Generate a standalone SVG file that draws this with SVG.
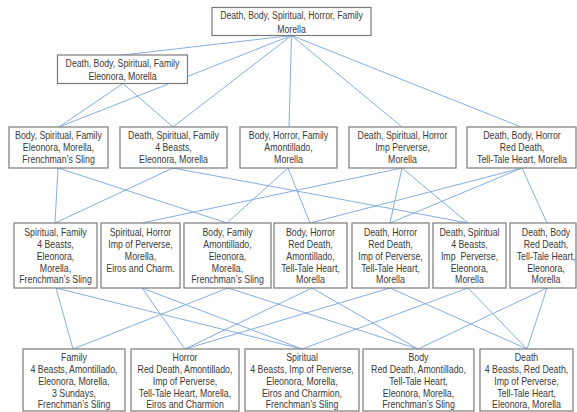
<svg xmlns="http://www.w3.org/2000/svg" width="577" height="412" viewBox="0 0 577 412">
<style>
.e{stroke:#86aee0;stroke-width:1;fill:none}
.b{fill:#fff;stroke:#7a7a7a;stroke-width:1.2}
.t{font-family:"Liberation Sans",Arial,sans-serif;font-size:10px;fill:#3a3a3a;text-anchor:middle}
</style>
<rect width="577" height="412" fill="#fff"/>
<g id="connectors">
<line class="e" x1="291.5" y1="35.5" x2="123" y2="55"/>
<line class="e" x1="291.5" y1="35.5" x2="59" y2="127"/>
<line class="e" x1="291.5" y1="35.5" x2="173" y2="127"/>
<line class="e" x1="291.5" y1="35.5" x2="289" y2="127"/>
<line class="e" x1="291.5" y1="35.5" x2="402" y2="127"/>
<line class="e" x1="291.5" y1="35.5" x2="521" y2="127"/>
<line class="e" x1="123" y1="83.5" x2="59" y2="127"/>
<line class="e" x1="123" y1="83.5" x2="173" y2="127"/>
<line class="e" x1="58" y1="168" x2="55" y2="223"/>
<line class="e" x1="58" y1="168" x2="227" y2="223"/>
<line class="e" x1="173" y1="168" x2="55" y2="223"/>
<line class="e" x1="173" y1="168" x2="468" y2="223"/>
<line class="e" x1="288" y1="168" x2="227" y2="223"/>
<line class="e" x1="288" y1="168" x2="310" y2="223"/>
<line class="e" x1="402" y1="168" x2="142" y2="223"/>
<line class="e" x1="402" y1="168" x2="390" y2="223"/>
<line class="e" x1="402" y1="168" x2="468" y2="223"/>
<line class="e" x1="522" y1="168" x2="310" y2="223"/>
<line class="e" x1="522" y1="168" x2="390" y2="223"/>
<line class="e" x1="522" y1="168" x2="547" y2="223"/>
<line class="e" x1="56" y1="288" x2="73" y2="349"/>
<line class="e" x1="228" y1="288" x2="73" y2="349"/>
<line class="e" x1="142" y1="288" x2="185" y2="349"/>
<line class="e" x1="312" y1="288" x2="185" y2="349"/>
<line class="e" x1="390" y1="288" x2="185" y2="349"/>
<line class="e" x1="56" y1="288" x2="302" y2="349"/>
<line class="e" x1="142" y1="288" x2="302" y2="349"/>
<line class="e" x1="468" y1="288" x2="302" y2="349"/>
<line class="e" x1="228" y1="288" x2="418" y2="349"/>
<line class="e" x1="312" y1="288" x2="418" y2="349"/>
<line class="e" x1="547" y1="288" x2="418" y2="349"/>
<line class="e" x1="390" y1="288" x2="527" y2="349"/>
<line class="e" x1="468" y1="288" x2="527" y2="349"/>
<line class="e" x1="547" y1="288" x2="527" y2="349"/>
</g>
<g id="top">
<rect class="b" x="212" y="7.5" width="159" height="28"/>
<text class="t" transform="translate(291.5 0) scale(0.87 1)"><tspan x="0" y="19.3">Death, Body, Spiritual, Horror, Family</tspan><tspan x="0" y="32.8">Morella</tspan></text>
</g>
<g id="dbsf">
<rect class="b" x="57.5" y="55" width="130" height="28.5"/>
<text class="t" transform="translate(122.5 0) scale(0.87 1)"><tspan x="0" y="66.9">Death, Body, Spiritual, Family</tspan><tspan x="0" y="79.6">Eleonora, Morella</tspan></text>
</g>
<g id="bsf">
<rect class="b" x="9" y="127" width="99" height="41"/>
<text class="t" transform="translate(58.5 0) scale(0.88 1)"><tspan x="0" y="139.5">Body, Spiritual, Family</tspan><tspan x="0" y="151.5">Eleonora, Morella,</tspan><tspan x="0" y="163.5">Frenchman’s Sling</tspan></text>
</g>
<g id="dsf">
<rect class="b" x="120" y="127" width="107" height="41"/>
<text class="t" transform="translate(173.5 0) scale(0.88 1)"><tspan x="0" y="139.5">Death, Spiritual, Family</tspan><tspan x="0" y="151.5">4 Beasts,</tspan><tspan x="0" y="163.5">Eleonora, Morella</tspan></text>
</g>
<g id="bhf">
<rect class="b" x="240" y="127" width="97" height="41"/>
<text class="t" transform="translate(288.5 0) scale(0.88 1)"><tspan x="0" y="139.5">Body, Horror, Family</tspan><tspan x="0" y="151.5">Amontillado,</tspan><tspan x="0" y="163.5">Morella</tspan></text>
</g>
<g id="dsh">
<rect class="b" x="349" y="127" width="107" height="41"/>
<text class="t" transform="translate(402.5 0) scale(0.88 1)"><tspan x="0" y="139.5">Death, Spiritual, Horror</tspan><tspan x="0" y="151.5">Imp Perverse,</tspan><tspan x="0" y="163.5">Morella</tspan></text>
</g>
<g id="dbh">
<rect class="b" x="467" y="127" width="109" height="41"/>
<text class="t" transform="translate(522 0) scale(0.88 1)"><tspan x="0" y="139.5">Death, Body, Horror</tspan><tspan x="0" y="151.5">Red Death,</tspan><tspan x="0" y="163.5">Tell-Tale Heart, Morella</tspan></text>
</g>
<g id="sf">
<rect class="b" x="14" y="223" width="83" height="65"/>
<text class="t" transform="translate(55.5 0) scale(0.88 1)"><tspan x="0" y="236">Spiritual, Family</tspan><tspan x="0" y="248">4 Beasts,</tspan><tspan x="0" y="260">Eleonora,</tspan><tspan x="0" y="272">Morella,</tspan><tspan x="0" y="283.5">Frenchman’s Sling</tspan></text>
</g>
<g id="sh">
<rect class="b" x="101" y="223" width="79" height="65"/>
<text class="t" transform="translate(140.5 0) scale(0.88 1)"><tspan x="0" y="236">Spiritual, Horror</tspan><tspan x="0" y="248">Imp of Perverse,</tspan><tspan x="0" y="260">Morella,</tspan><tspan x="0" y="272">Eiros and Charm.</tspan></text>
</g>
<g id="bf">
<rect class="b" x="184" y="223" width="87" height="65"/>
<text class="t" transform="translate(227.5 0) scale(0.88 1)"><tspan x="0" y="236">Body, Family</tspan><tspan x="0" y="248">Amontillado,</tspan><tspan x="0" y="260">Eleonora,</tspan><tspan x="0" y="272">Morella,</tspan><tspan x="0" y="283.5">Frenchman’s Sling</tspan></text>
</g>
<g id="bh">
<rect class="b" x="274" y="223" width="73" height="65"/>
<text class="t" transform="translate(310.5 0) scale(0.88 1)"><tspan x="0" y="236">Body, Horror</tspan><tspan x="0" y="248">Red Death,</tspan><tspan x="0" y="260">Amontillado,</tspan><tspan x="0" y="272">Tell-Tale Heart,</tspan><tspan x="0" y="283.5">Morella</tspan></text>
</g>
<g id="dh">
<rect class="b" x="352" y="223" width="77" height="65"/>
<text class="t" transform="translate(390.5 0) scale(0.88 1)"><tspan x="0" y="236">Death, Horror</tspan><tspan x="0" y="248">Red Death,</tspan><tspan x="0" y="260">Imp of Perverse,</tspan><tspan x="0" y="272">Tell-Tale Heart,</tspan><tspan x="0" y="283.5">Morella</tspan></text>
</g>
<g id="ds">
<rect class="b" x="433" y="223" width="73" height="65"/>
<text class="t" transform="translate(469.5 0) scale(0.88 1)"><tspan x="0" y="236">Death, Spiritual</tspan><tspan x="0" y="248">4 Beasts,</tspan><tspan x="0" y="260" style="white-space:pre">Imp  Perverse,</tspan><tspan x="0" y="272">Eleonora,</tspan><tspan x="0" y="283.5">Morella</tspan></text>
</g>
<g id="db">
<rect class="b" x="510" y="223" width="66" height="65"/>
<text class="t" transform="translate(546 0) scale(0.88 1)"><tspan x="0" y="236">Death, Body</tspan><tspan x="0" y="248">Red Death,</tspan><tspan x="0" y="260">Tell-Tale Heart,</tspan><tspan x="0" y="272">Eleonora,</tspan><tspan x="0" y="283.5">Morella</tspan></text>
</g>
<g id="family">
<rect class="b" x="23" y="349" width="102" height="62"/>
<text class="t" transform="translate(74 0) scale(0.88 1)"><tspan x="0" y="361">Family</tspan><tspan x="0" y="373">4 Beasts, Amontillado,</tspan><tspan x="0" y="385">Eleonora, Morella,</tspan><tspan x="0" y="397">3 Sundays,</tspan><tspan x="0" y="408.5">Frenchman’s Sling</tspan></text>
</g>
<g id="horror">
<rect class="b" x="131" y="349" width="108" height="62"/>
<text class="t" transform="translate(185 0) scale(0.88 1)"><tspan x="0" y="361">Horror</tspan><tspan x="0" y="373">Red Death, Amontillado,</tspan><tspan x="0" y="385">Imp of Perverse,</tspan><tspan x="0" y="397">Tell-Tale Heart, Morella,</tspan><tspan x="0" y="408.5">Eiros and Charmion</tspan></text>
</g>
<g id="spiritual">
<rect class="b" x="245" y="349" width="114" height="62"/>
<text class="t" transform="translate(302 0) scale(0.88 1)"><tspan x="0" y="361">Spiritual</tspan><tspan x="0" y="373">4 Beasts, Imp of Perverse,</tspan><tspan x="0" y="385">Eleonora, Morella,</tspan><tspan x="0" y="397">Eiros and Charmion,</tspan><tspan x="0" y="408.5">Frenchman’s Sling</tspan></text>
</g>
<g id="body">
<rect class="b" x="363" y="349" width="111" height="62"/>
<text class="t" transform="translate(418.5 0) scale(0.88 1)"><tspan x="0" y="361">Body</tspan><tspan x="0" y="373">Red Death, Amontillado,</tspan><tspan x="0" y="385">Tell-Tale Heart,</tspan><tspan x="0" y="397">Eleonora, Morella,</tspan><tspan x="0" y="408.5">Frenchman’s Sling</tspan></text>
</g>
<g id="death">
<rect class="b" x="480" y="349" width="93" height="62"/>
<text class="t" transform="translate(526.5 0) scale(0.88 1)"><tspan x="0" y="361">Death</tspan><tspan x="0" y="373">4 Beasts, Red Death,</tspan><tspan x="0" y="385">Imp of Perverse,</tspan><tspan x="0" y="397">Tell-Tale Heart,</tspan><tspan x="0" y="408.5">Eleonora, Morella</tspan></text>
</g>
</svg>
